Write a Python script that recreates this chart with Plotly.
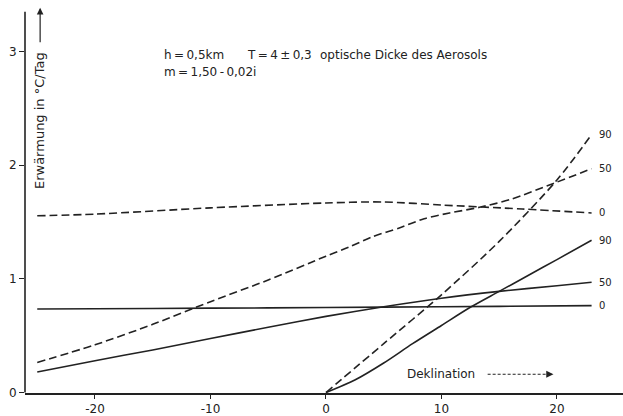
import plotly.graph_objects as go

# Declination (degrees) and heating rate (°C/day) for each curve
x_sol_0 = [-25, -15, -5, 5, 15, 23]
y_sol_0 = [0.735, 0.74, 0.745, 0.752, 0.758, 0.765]

x_sol_50 = [-25, -20, -15, -10, -5, 0, 5, 10, 15, 20, 23]
y_sol_50 = [0.18, 0.28, 0.375, 0.475, 0.575, 0.67, 0.755, 0.83, 0.89, 0.94, 0.97]

x_sol_90 = [0, 2.5, 5, 7.5, 10, 12.5, 15, 17.5, 20, 23]
y_sol_90 = [0.0, 0.11, 0.26, 0.43, 0.59, 0.75, 0.89, 1.03, 1.17, 1.34]

x_dash_0 = [-25, -20, -10, 0, 5, 10, 17, 23]
y_dash_0 = [1.555, 1.57, 1.625, 1.668, 1.677, 1.65, 1.615, 1.58]

x_dash_50 = [-25, -20, -15, -10, -5, 0, 2, 4, 6.4, 8.5, 10.7, 13.3, 16, 19.7, 23]
y_dash_50 = [0.265, 0.42, 0.6, 0.8, 0.99, 1.2, 1.28, 1.37, 1.45, 1.53, 1.58, 1.63, 1.7, 1.84, 1.97]

x_dash_90 = [0, 5, 10, 15, 20, 23]
y_dash_90 = [0.0, 0.43, 0.86, 1.33, 1.87, 2.27]

x_ticks = [-20, -10, 0, 10, 20]
x_ticklabels = ["-20", "-10", "0", "10", "20"]
y_ticks = [0, 1, 2, 3]
y_ticklabels = ["0", "1", "2", "3"]

ink = "#222222"
font_family = "DejaVu Sans"
thin = "\u2009"

fig = go.Figure()

series = [
    (x_sol_0, y_sol_0, "solid", "0"),
    (x_sol_50, y_sol_50, "solid", "50"),
    (x_sol_90, y_sol_90, "solid", "90"),
    (x_dash_0, y_dash_0, "8px,4px", "0"),
    (x_dash_50, y_dash_50, "8px,4px", "50"),
    (x_dash_90, y_dash_90, "8px,4px", "90"),
]

for xs, ys, dash, lab in series:
    fig.add_trace(go.Scatter(
        x=xs, y=ys, mode="lines",
        line=dict(color=ink, width=1.6, dash=dash, shape="spline", smoothing=0.8),
        showlegend=False, hoverinfo="skip",
    ))
    # end-of-curve label
    fig.add_annotation(
        x=xs[-1], y=ys[-1], text=lab, showarrow=False,
        xanchor="left", yanchor="middle", xshift=5,
        font=dict(family=font_family, size=10, color=ink),
    )

annotations = [
    dict(xref="paper", yref="y", x=0.229, y=2.97, text=f"h{thin}={thin}0,5km",
         xanchor="left", showarrow=False, size=12),
    dict(xref="paper", yref="y", x=0.368, y=2.97, text=f"T{thin}={thin}4{thin}±{thin}0,3",
         xanchor="left", showarrow=False, size=12),
    dict(xref="paper", yref="y", x=0.490, y=2.97, text="optische Dicke des Aerosols",
         xanchor="left", showarrow=False, size=12),
    dict(xref="paper", yref="y", x=0.229, y=2.82, text=f"m{thin}={thin}1,50{thin}-{thin}0,02i",
         xanchor="left", showarrow=False, size=12),
    dict(x=10.0, y=0.161, text="Deklination", xanchor="center",
         showarrow=False, size=12),
]
for a in annotations:
    size = a.pop("size")
    a["font"] = dict(family=font_family, size=size, color=ink)
    fig.add_annotation(**a)

# y-axis title, rotated, with its arrow
fig.add_annotation(
    x=-24.75, y=2.39, text="Erwärmung in °C/Tag", textangle=-90,
    showarrow=False, xanchor="center", yanchor="middle",
    font=dict(family=font_family, size=13, color=ink),
)
fig.add_annotation(
    x=-24.75, y=3.385, ax=0, ay=36, text="", showarrow=True,
    arrowhead=2, arrowsize=1.1, arrowwidth=1.2, arrowcolor=ink,
)

# "Deklination" arrow
fig.add_shape(type="line", x0=14.0, x1=19.2, y0=0.161, y1=0.161,
              line=dict(color=ink, width=1, dash="3px,2px"))
fig.add_annotation(
    x=19.7, y=0.161, ax=-8, ay=0, text="", showarrow=True,
    arrowhead=2, arrowsize=1.2, arrowwidth=1.2, arrowcolor=ink,
)

# vertical axis line
fig.add_shape(type="line", xref="paper", x0=0, x1=0, y0=0, y1=3.35,
              line=dict(color=ink, width=1.6))

fig.update_layout(
    width=623, height=416,
    margin=dict(l=25, r=0, t=0, b=19),
    paper_bgcolor="white", plot_bgcolor="white",
    font=dict(family=font_family, size=12, color=ink),
)
fig.update_xaxes(
    range=[-26.06, 25.72], showgrid=False, zeroline=False,
    showline=True, linecolor=ink, linewidth=1.6,
    ticks="outside", ticklen=4, tickcolor=ink, tickwidth=1.2,
    tickvals=x_ticks, ticktext=x_ticklabels,
    tickfont=dict(family=font_family, size=12, color=ink),
)
fig.update_yaxes(
    range=[-0.004, 3.454], showgrid=False, zeroline=False, showline=False,
    ticks="outside", ticklen=5, tickcolor=ink, tickwidth=1.2,
    tickvals=y_ticks, ticktext=y_ticklabels,
    tickfont=dict(family=font_family, size=12, color=ink),
)

fig.write_html("out.html")
